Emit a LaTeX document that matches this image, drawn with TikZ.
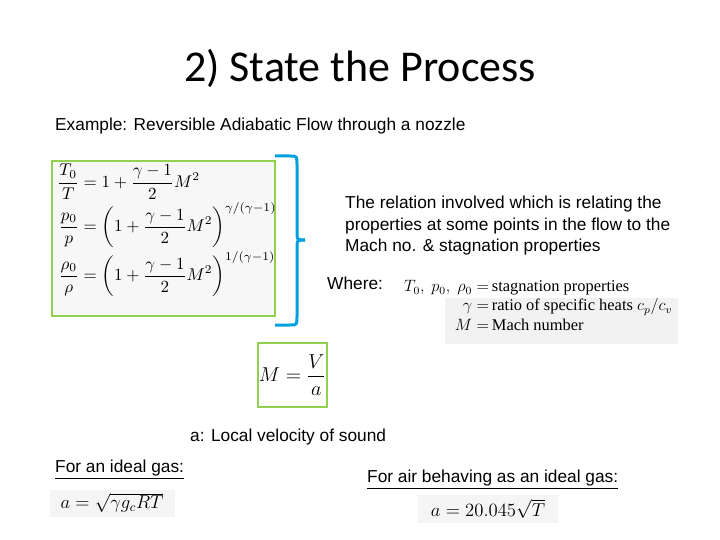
\documentclass[tikz,border=0pt]{standalone}
\usepackage{amsmath}
\usepackage{fontspec}
\setmainfont{Liberation Sans}
\newfontfamily\titlefont{Carlito}
\newfontfamily\serf{Liberation Serif}
\definecolor{gbox}{RGB}{146,208,80}
\definecolor{bbr}{RGB}{0,160,222}
\begin{document}
\begin{tikzpicture}[x=1pt,y=-1pt,
  txt/.style={anchor=west,inner sep=0pt,font=\fontsize{17.3}{21.5}\selectfont},
  eqn/.style={inner sep=0pt},
  gframe/.style={draw=gbox,line width=2.5pt}]
\useasboundingbox (0,0) rectangle (720,540);
\node[font=\titlefont\fontsize{44}{50}\selectfont] (title) at (360,68) {2) State the Process};
\node[txt] (ex) at (55,126) {Example: Reversible Adiabatic Flow through a nozzle};
\fill[gray!6] (52,161) rectangle (275,316);
\draw[gframe] (52,161) rectangle (275,316);
\node[eqn,anchor=north west,scale=1.7] (eqs) at (57,164) {$\displaystyle
\begin{aligned}
\frac{T_0}{T}&=1+\frac{\gamma-1}{2}M^2\\[-2pt]
\frac{p_0}{p}&=\left(1+\frac{\gamma-1}{2}M^2\right)^{\gamma/(\gamma-1)}\\[-2pt]
\frac{\rho_0}{\rho}&=\left(1+\frac{\gamma-1}{2}M^2\right)^{1/(\gamma-1)}
\end{aligned}$};
\draw[bbr,line width=3pt] (275,156) -- (290,156) .. controls (297,156) .. (297,165) -- (297,232) .. controls (297,240) .. (305,240);
\draw[bbr,line width=3pt] (305,240) .. controls (297,240) .. (297,248) -- (297,316) .. controls (297,325) .. (290,325) -- (275,325);
\node[txt,anchor=north west,align=left] (rel) at (345,196) {The relation involved which is relating the\\properties at some points in the flow to the\\Mach no. \& stagnation properties};
\node[txt] (where) at (327,283) {Where:};
\fill[gray!10] (445,298) rectangle (678,344);
\node[eqn,anchor=north west,scale=1.37,font=\serf\fontsize{12}{14}\selectfont] (wdef) at (397,278) {$
\begin{array}{r@{\,}l}
T_0,\ p_0,\ \rho_0 = & \text{\serf stagnation properties}\\[0pt]
\gamma = & \text{\serf ratio of specific heats } c_p/c_v\\[0pt]
M = & \text{\serf Mach number}
\end{array}$};
\draw[gframe] (258,343) rectangle (327,407);
\node[eqn,scale=1.4] (mva) at (292.5,375) {\fontsize{14}{16}\selectfont$M=\dfrac{V}{a}$};
\node[txt] (loc) at (190,437) {a: Local velocity of sound};
\node[txt] (ideal) at (55,470) {\underline{For an ideal gas:}};
\fill[gray!8] (50,490) rectangle (175,517);
\node[eqn,scale=1.3] (aeq) at (112,503) {\fontsize{14}{16}\selectfont$a=\sqrt{\gamma g_c RT}$};
\node[txt] (air) at (367,480) {\underline{For air behaving as an ideal gas:}};
\fill[gray!8] (418,495) rectangle (558,523);
\node[eqn,scale=1.3] (aair) at (488,509) {\fontsize{14}{16}\selectfont$a=20.045\sqrt{T}$};
\end{tikzpicture}
\end{document}
